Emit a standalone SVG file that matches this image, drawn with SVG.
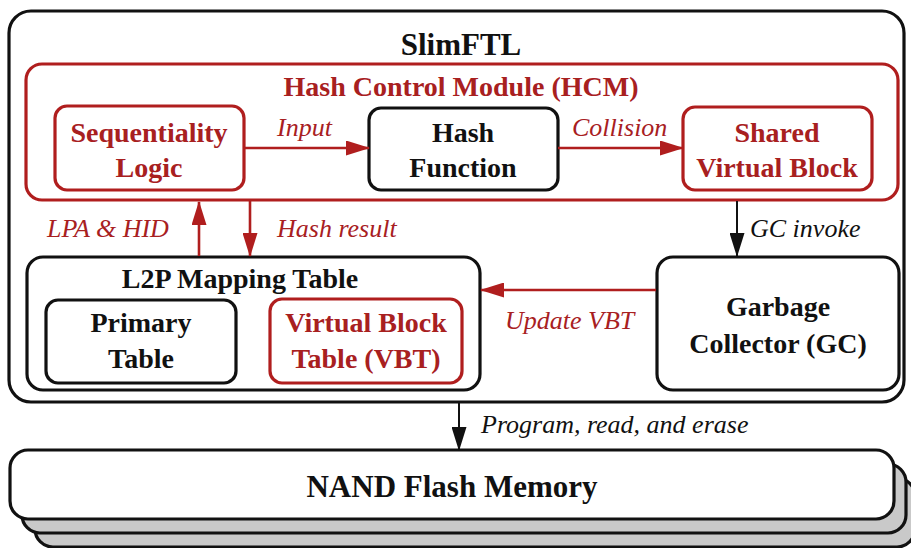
<svg xmlns="http://www.w3.org/2000/svg" width="911" height="548" viewBox="0 0 911 548">
  <style>
    .box { fill: #ffffff; stroke: #111111; stroke-width: 3.2; }
    .rbox { fill: #ffffff; stroke: #b01e1e; stroke-width: 3.2; }
    .back { fill: #c9c9c9; stroke: #111111; stroke-width: 3.2; }
    .t { font-family: "Liberation Serif", "Times New Roman", serif; font-weight: bold; font-size: 28px; text-anchor: middle; fill: #111111; }
    .tr { fill: #a8201f; }
    .big { font-size: 31px; }
    .lab { font-family: "Liberation Serif", "Times New Roman", serif; font-style: italic; font-size: 26px; fill: #111111; }
    .labr { fill: #a8201f; }
    .wr { stroke: #b01e1e; stroke-width: 2.6; fill: none; }
    .wk { stroke: #111111; stroke-width: 2; fill: none; }
  </style>
  <defs>
    <marker id="ahr" viewBox="0 0 24 15" refX="23" refY="7.5" markerWidth="24" markerHeight="15" markerUnits="userSpaceOnUse" orient="auto">
      <path d="M0,0 L24,7.5 L0,15 z" fill="#b01e1e"/>
    </marker>
    <marker id="ahk" viewBox="0 0 24 15" refX="23" refY="7.5" markerWidth="24" markerHeight="15" markerUnits="userSpaceOnUse" orient="auto">
      <path d="M0,0 L24,7.5 L0,15 z" fill="#111111"/>
    </marker>
  </defs>

  <!-- NAND flash stack (back layers first) -->
  <g id="nand">
    <rect class="back" x="35" y="478" width="880" height="69" rx="18"/>
    <rect class="back" x="22" y="464" width="884" height="69" rx="18"/>
    <rect class="box" x="10" y="450" width="884" height="69" rx="18"/>
    <text class="t big" x="452" y="497">NAND Flash Memory</text>
  </g>

  <!-- SlimFTL container -->
  <g id="slimftl">
    <rect class="box" x="9" y="11" width="895" height="391" rx="22"/>
    <text class="t big" x="461" y="55">SlimFTL</text>
  </g>

  <!-- Hash Control Module -->
  <g id="hcm">
    <rect class="rbox" x="26" y="64" width="872" height="136" rx="16"/>
    <text class="t tr" x="461" y="96">Hash Control Module (HCM)</text>
  </g>

  <g id="seq">
    <rect class="rbox" x="55" y="106" width="189" height="84" rx="12"/>
    <text class="t tr" x="149" y="142">Sequentiality</text>
    <text class="t tr" x="149" y="177">Logic</text>
  </g>

  <g id="hash">
    <rect class="box" x="369" y="108" width="189" height="82" rx="12"/>
    <text class="t" x="463" y="142">Hash</text>
    <text class="t" x="463" y="177">Function</text>
  </g>

  <g id="svb">
    <rect class="rbox" x="683" y="107" width="189" height="83" rx="12"/>
    <text class="t tr" x="777" y="142">Shared</text>
    <text class="t tr" x="777" y="177">Virtual Block</text>
  </g>

  <!-- L2P mapping table -->
  <g id="l2p">
    <rect class="box" x="27" y="257" width="453" height="133" rx="16"/>
    <text class="t" x="240" y="288">L2P Mapping Table</text>
  </g>

  <g id="primary">
    <rect class="box" x="46" y="300" width="190" height="83" rx="12"/>
    <text class="t" x="141" y="332">Primary</text>
    <text class="t" x="141" y="368">Table</text>
  </g>

  <g id="vbt">
    <rect class="rbox" x="270" y="299" width="192" height="84" rx="12"/>
    <text class="t tr" x="366" y="332">Virtual Block</text>
    <text class="t tr" x="366" y="368">Table (VBT)</text>
  </g>

  <g id="gc">
    <rect class="box" x="657" y="257" width="242" height="133" rx="16"/>
    <text class="t" x="778" y="316">Garbage</text>
    <text class="t" x="778" y="353">Collector (GC)</text>
  </g>

  <!-- Connectors -->
  <g id="connectors">
    <line class="wr" x1="244" y1="148" x2="369" y2="148" marker-end="url(#ahr)"/>
    <line class="wr" x1="558" y1="148" x2="683" y2="148" marker-end="url(#ahr)"/>
    <line class="wr" x1="199" y1="256" x2="199" y2="202" marker-end="url(#ahr)"/>
    <line class="wr" x1="250" y1="201" x2="250" y2="256" marker-end="url(#ahr)"/>
    <line class="wk" x1="737" y1="201" x2="737" y2="256" marker-end="url(#ahk)"/>
    <line class="wr" x1="656" y1="290" x2="481" y2="290" marker-end="url(#ahr)"/>
    <line class="wk" x1="459" y1="403" x2="459" y2="450" marker-end="url(#ahk)"/>

    <text class="lab labr" x="277" y="136">Input</text>
    <text class="lab labr" x="572" y="136">Collision</text>
    <text class="lab labr" x="47" y="237">LPA &amp; HID</text>
    <text class="lab labr" x="277" y="237">Hash result</text>
    <text class="lab" x="750" y="237">GC invoke</text>
    <text class="lab labr" x="505" y="329">Update VBT</text>
    <text class="lab" x="481" y="433">Program, read, and erase</text>
  </g>
</svg>
